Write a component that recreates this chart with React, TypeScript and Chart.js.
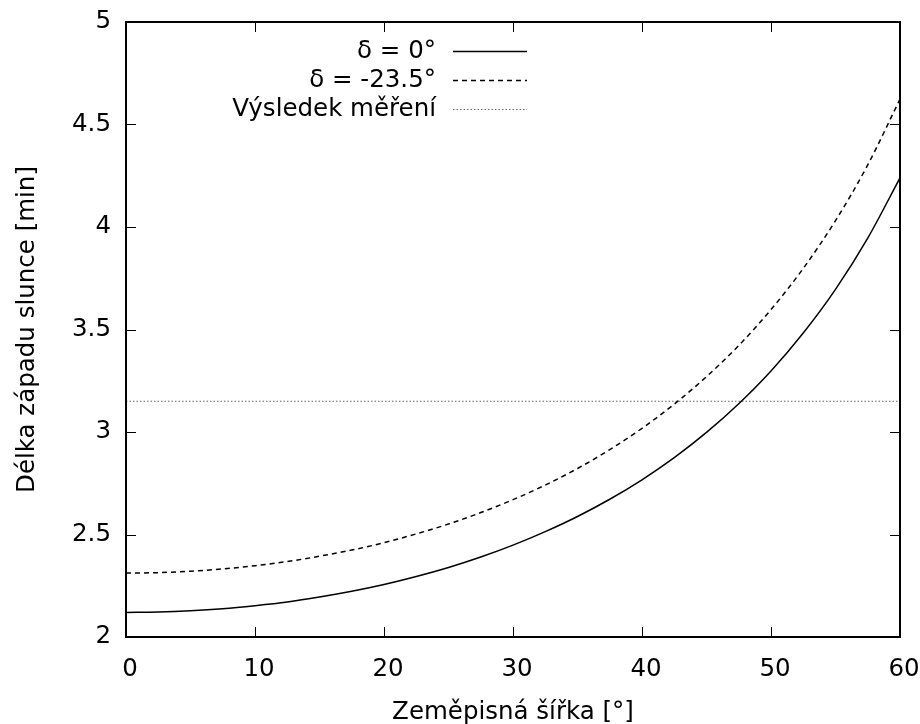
import React, { useEffect, useRef } from "react";
import { Chart, registerables } from "chart.js";

Chart.register(...registerables);

const latitudes = [0, 2.5, 5, 7.5, 10, 12.5, 15, 17.5, 20, 22.5, 25, 27.5, 30, 32.5, 35, 37.5, 40, 42.5, 45, 47.5, 50, 52.5, 55, 57.5, 60];
const durationDelta0 = [2.12, 2.122, 2.128, 2.138, 2.153, 2.171, 2.195, 2.223, 2.256, 2.295, 2.339, 2.39, 2.448, 2.514, 2.588, 2.672, 2.767, 2.875, 2.998, 3.138, 3.298, 3.483, 3.696, 3.946, 4.24];
const durationDeltaM235 = [2.312, 2.314, 2.321, 2.332, 2.348, 2.368, 2.394, 2.424, 2.46, 2.503, 2.551, 2.607, 2.67, 2.741, 2.822, 2.914, 3.018, 3.136, 3.27, 3.422, 3.597, 3.798, 4.031, 4.303, 4.624];
const measuredX = [0, 60];
const measuredY = [3.15, 3.15];
const seriesLabels = ["δ = 0°", "δ = -23.5°", "Výsledek měření"];
const xTitle = "Zeměpisná šířka [°]";
const yTitle = "Délka západu slunce [min]";

const FONT = "DejaVu Sans";
const FS = 24.5;

export default function App() {
  const ref = useRef<HTMLCanvasElement | null>(null);

  useEffect(() => {
    const canvas = ref.current;
    if (!canvas) return;

    const styles = [
      { color: "#000000", width: 1.5, dash: [] as number[] },
      { color: "#000000", width: 1.5, dash: [5, 4] },
      { color: "#666666", width: 1, dash: [1.5, 2] },
    ];

    const framePlugin = {
      id: "frame",
      afterDatasetsDraw(chart: any) {
        const { ctx, chartArea } = chart;
        const { left, right, top, bottom } = chartArea;
        ctx.save();
        ctx.strokeStyle = "#000";
        ctx.lineWidth = 2;
        ctx.setLineDash([]);
        ctx.strokeRect(left, top, right - left, bottom - top);
        const tl = 10;
        ctx.lineWidth = 1;
        const xs = chart.scales.x;
        xs.ticks.forEach((t: any) => {
          const px = Math.round(xs.getPixelForValue(t.value)) + 0.5;
          ctx.beginPath();
          ctx.moveTo(px, bottom);
          ctx.lineTo(px, bottom - tl);
          ctx.moveTo(px, top);
          ctx.lineTo(px, top + tl);
          ctx.stroke();
        });
        const ys = chart.scales.y;
        ys.ticks.forEach((t: any) => {
          const py = Math.round(ys.getPixelForValue(t.value)) + 0.5;
          ctx.beginPath();
          ctx.moveTo(left, py);
          ctx.lineTo(left + tl, py);
          ctx.moveTo(right, py);
          ctx.lineTo(right - tl, py);
          ctx.stroke();
        });
        // legend
        ctx.font = `${FS}px ${FONT}`;
        ctx.fillStyle = "#000";
        ctx.textAlign = "right";
        ctx.textBaseline = "middle";
        const textRight = 436;
        const lineStart = 453;
        const lineEnd = 527;
        const rowY = [51, 80, 109];
        seriesLabels.forEach((lab, i) => {
          ctx.fillText(lab, textRight, rowY[i] + 1);
          ctx.strokeStyle = styles[i].color;
          ctx.lineWidth = styles[i].width;
          ctx.setLineDash(styles[i].dash);
          ctx.beginPath();
          ctx.moveTo(lineStart, rowY[i] + 0.5);
          ctx.lineTo(lineEnd, rowY[i] + 0.5);
          ctx.stroke();
        });
        ctx.restore();
      },
    };

    const mk = (xs: number[], ys: number[]) => xs.map((x, i) => ({ x, y: ys[i] }));

    const chart = new Chart(canvas, {
      type: "line",
      data: {
        datasets: [
          {
            label: seriesLabels[0],
            data: mk(latitudes, durationDelta0),
            borderColor: styles[0].color,
            borderWidth: styles[0].width,
            borderDash: styles[0].dash,
            pointRadius: 0,
            cubicInterpolationMode: "monotone",
            fill: false,
          },
          {
            label: seriesLabels[1],
            data: mk(latitudes, durationDeltaM235),
            borderColor: styles[1].color,
            borderWidth: styles[1].width,
            borderDash: styles[1].dash,
            pointRadius: 0,
            cubicInterpolationMode: "monotone",
            fill: false,
          },
          {
            label: seriesLabels[2],
            data: mk(measuredX, measuredY),
            borderColor: styles[2].color,
            borderWidth: styles[2].width,
            borderDash: styles[2].dash,
            pointRadius: 0,
            fill: false,
          },
        ],
      },
      options: {
        responsive: false,
        animation: false,
        layout: { padding: { top: 22, right: 20, left: 0, bottom: 0 } },
        plugins: {
          legend: { display: false },
          tooltip: { enabled: false },
        },
        scales: {
          x: {
            type: "linear",
            min: 0,
            max: 60,
            ticks: {
              stepSize: 10,
              color: "#000",
              font: { family: FONT, size: FS },
              padding: 18,
              maxRotation: 0,
              labelOffset: 4,
              callback: (v: any) => String(v),
            },
            grid: { display: false, drawTicks: false },
            border: { display: false },
            title: {
              display: true,
              text: xTitle,
              color: "#000",
              font: { family: FONT, size: FS, lineHeight: 0.9 },
              padding: { top: 0, bottom: 0 },
            },
            afterFit(scale: any) {
              scale.height = 87;
              scale.paddingLeft = 0;
              scale.paddingRight = 0;
            },
          },
          y: {
            type: "linear",
            min: 2,
            max: 5,
            ticks: {
              stepSize: 0.5,
              color: "#000",
              font: { family: FONT, size: FS },
              padding: 15,
              callback: (v: any) => String(v),
            },
            grid: { display: false, drawTicks: false },
            border: { display: false },
            title: {
              display: true,
              text: yTitle,
              color: "#000",
              font: { family: FONT, size: FS },
              padding: { top: 13, bottom: 0 },
            },
            afterFit(scale: any) {
              scale.width = 126;
              scale.paddingTop = 0;
              scale.paddingBottom = 0;
            },
          },
        },
      },
      plugins: [framePlugin],
    });

    return () => chart.destroy();
  }, []);

  return (
    <div style={{ position: "fixed", left: 0, top: 0, width: 920, height: 724, background: "#fff" }}>
      <canvas ref={ref} width={920} height={724} style={{ display: "block" }} />
    </div>
  );
}
